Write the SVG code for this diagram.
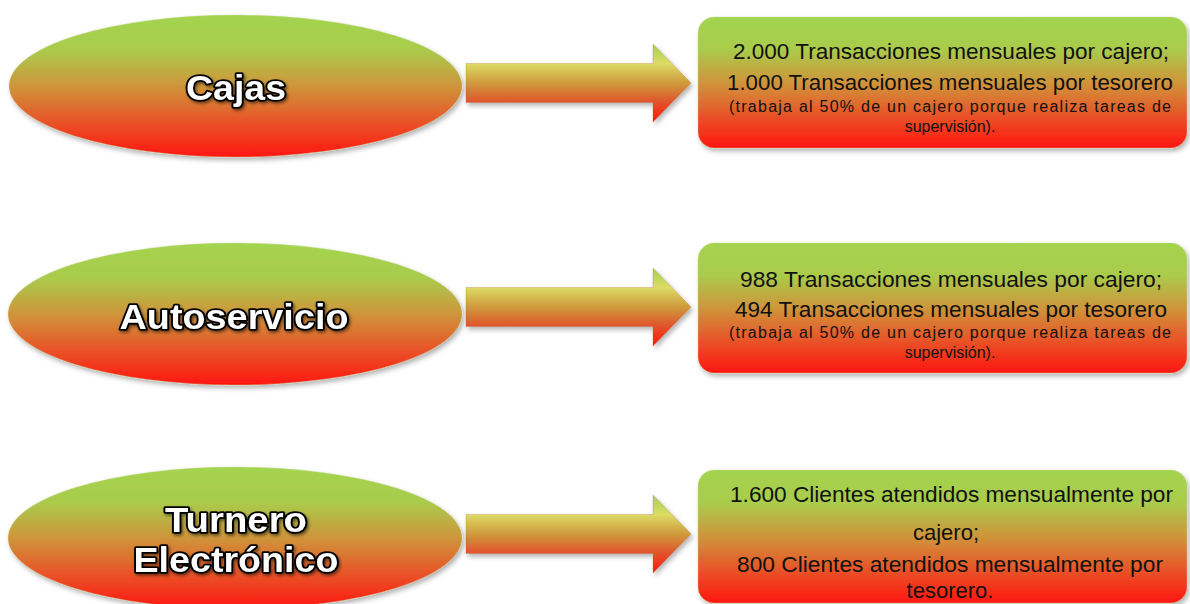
<svg xmlns="http://www.w3.org/2000/svg" xmlns:xlink="http://www.w3.org/1999/xlink" width="1190" height="604" viewBox="0 0 1190 604">
  <defs>
    <linearGradient id="gNode" x1="0" y1="0" x2="0" y2="1">
      <stop offset="0" stop-color="#a3d44f"/>
      <stop offset="0.25" stop-color="#aacb4c"/>
      <stop offset="0.5" stop-color="#cf953a"/>
      <stop offset="0.75" stop-color="#e85428"/>
      <stop offset="1" stop-color="#ff1610"/>
    </linearGradient>
    <linearGradient id="gArrow" gradientUnits="userSpaceOnUse" x1="0" y1="-39" x2="0" y2="39">
      <stop offset="0" stop-color="#9fd24c"/>
      <stop offset="0.25" stop-color="#dcdc66"/>
      <stop offset="0.5" stop-color="#cf9a3c"/>
      <stop offset="0.75" stop-color="#e2522a"/>
      <stop offset="1" stop-color="#ff1610"/>
    </linearGradient>
    <filter id="sh" x="-10%" y="-20%" width="120%" height="150%">
      <feDropShadow dx="2" dy="3" stdDeviation="2.5" flood-color="#000" flood-opacity="0.3"/>
    </filter>
    <filter id="tsh" x="-10%" y="-30%" width="120%" height="160%">
      <feDropShadow dx="1.5" dy="2" stdDeviation="1.5" flood-color="#000" flood-opacity="0.5"/>
    </filter>
    <path id="arrowShape" d="M466,-19.5 L653,-19.5 L653,-39 L691,0 L653,39 L653,19.5 L466,19.5 Z"/>
    <style>
      .node { fill: url(#gNode); stroke: #c8d890; stroke-opacity: 0.35; stroke-width: 1; filter: url(#sh); }
      .arrow { fill: url(#gArrow); stroke: #b06030; stroke-opacity: 0.25; stroke-width: 1; filter: url(#sh); }
      .lbl { font-family: "Liberation Sans", Arial, sans-serif; font-weight: bold; font-size: 35px; fill: #ffffff; stroke: #000000; stroke-width: 3.6; paint-order: stroke; stroke-linejoin: round; text-anchor: middle; filter: url(#tsh); }
      .big { font-family: "Liberation Sans", Arial, sans-serif; font-size: 22px; fill: #111111; }
      .small { font-family: "Liberation Sans", Arial, sans-serif; font-size: 16px; fill: #111111; }
    </style>
  </defs>

  <g id="connectors">
    <use xlink:href="#arrowShape" class="arrow" transform="translate(0,83)"/>
    <use xlink:href="#arrowShape" class="arrow" transform="translate(0,307)"/>
    <use xlink:href="#arrowShape" class="arrow" transform="translate(0,534)"/>
  </g>

  <g id="node-cajas">
    <ellipse class="node" cx="235.5" cy="86" rx="226.5" ry="71"/>
    <text class="lbl" x="236" y="100" textLength="100" lengthAdjust="spacingAndGlyphs">Cajas</text>
  </g>

  <g id="node-autoservicio">
    <ellipse class="node" cx="235" cy="314" rx="227" ry="71"/>
    <text class="lbl" x="234" y="329" textLength="229" lengthAdjust="spacingAndGlyphs">Autoservicio</text>
  </g>

  <g id="node-turnero">
    <ellipse class="node" cx="235" cy="538" rx="227" ry="71"/>
    <text class="lbl" x="236" y="532" textLength="142" lengthAdjust="spacingAndGlyphs">Turnero</text>
    <text class="lbl" x="236" y="572" textLength="205" lengthAdjust="spacingAndGlyphs">Electrónico</text>
  </g>

  <g id="box-cajas">
    <rect class="node" x="698" y="17" width="489" height="131" rx="16" ry="16"/>
    <text class="big" x="733" y="59" textLength="436" lengthAdjust="spacingAndGlyphs">2.000 Transacciones mensuales por cajero;</text>
    <text class="big" x="727" y="90" textLength="446" lengthAdjust="spacingAndGlyphs">1.000 Transacciones mensuales por tesorero</text>
    <text class="small" x="729" y="112" textLength="442">(trabaja al 50% de un cajero porque realiza tareas de</text>
    <text class="small" x="950" y="132" text-anchor="middle">supervisión).</text>
  </g>

  <g id="box-autoservicio">
    <rect class="node" x="698" y="243" width="489" height="130" rx="16" ry="16"/>
    <text class="big" x="740" y="287" textLength="422" lengthAdjust="spacingAndGlyphs">988 Transacciones mensuales por cajero;</text>
    <text class="big" x="735" y="317" textLength="432" lengthAdjust="spacingAndGlyphs">494 Transacciones mensuales por tesorero</text>
    <text class="small" x="729" y="338" textLength="442">(trabaja al 50% de un cajero porque realiza tareas de</text>
    <text class="small" x="950" y="358" text-anchor="middle">supervisión).</text>
  </g>

  <g id="box-turnero">
    <rect class="node" x="698" y="470" width="489" height="133" rx="16" ry="16"/>
    <text class="big" x="730" y="502" textLength="443" lengthAdjust="spacingAndGlyphs">1.600 Clientes atendidos mensualmente por</text>
    <text class="big" x="946" y="540" text-anchor="middle">cajero;</text>
    <text class="big" x="737" y="572" textLength="426" lengthAdjust="spacingAndGlyphs">800 Clientes atendidos mensualmente por</text>
    <text class="big" x="950" y="598" text-anchor="middle">tesorero.</text>
  </g>
</svg>
